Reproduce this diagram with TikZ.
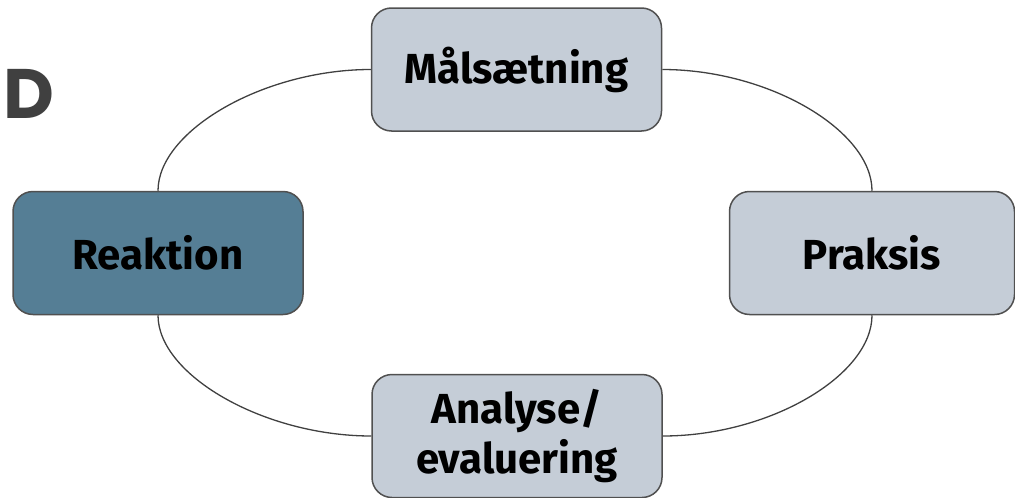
\documentclass[tikz,border=0pt]{standalone}
\usepackage{fontspec}
\setmainfont{Fira Sans}
\newfontfamily\dfont{Poppins}
\definecolor{boxgray}{HTML}{C5CDD7}
\definecolor{boxblue}{HTML}{557E95}
\definecolor{edgegray}{HTML}{505050}
\definecolor{linkgray}{HTML}{404040}
\definecolor{lettergray}{HTML}{404040}
\tikzset{
  stage/.style={draw=edgegray, line width=1.5pt, rounded corners=20pt, fill=boxgray,
    minimum width=290pt, minimum height=123pt, inner sep=0pt, align=center,
    font=\fontsize{42}{50}\selectfont\bfseries, text=black},
  link/.style={draw=linkgray, line width=1.3pt}
}
\begin{document}
\begin{tikzpicture}[x=1pt,y=-1pt]
\useasboundingbox (0,0) rectangle (1015,498);
\node[font=\dfont\fontsize{70}{70}\selectfont\bfseries, text=lettergray, anchor=base west, inner sep=0pt] (letter) at (3,118) {D};
\node[stage] (mal) at (516.5,69.5) {Målsætning};
\node[stage, fill=boxblue] (rea) at (158,253) {Reaktion};
\node[stage, minimum width=285pt] (pra) at (872,253) {Praksis};
\node[stage] (ana) at (517,436) {Analyse/\\evaluering};
\draw[link] (mal.west) .. controls +(-107,0) and +(0,-60) .. (rea.north);
\draw[link] (mal.east) .. controls +(107,0) and +(0,-60) .. (pra.north);
\draw[link] (ana.west) .. controls +(-107,0) and +(0,60) .. (rea.south);
\draw[link] (ana.east) .. controls +(107,0) and +(0,60) .. (pra.south);
\end{tikzpicture}
\end{document}
